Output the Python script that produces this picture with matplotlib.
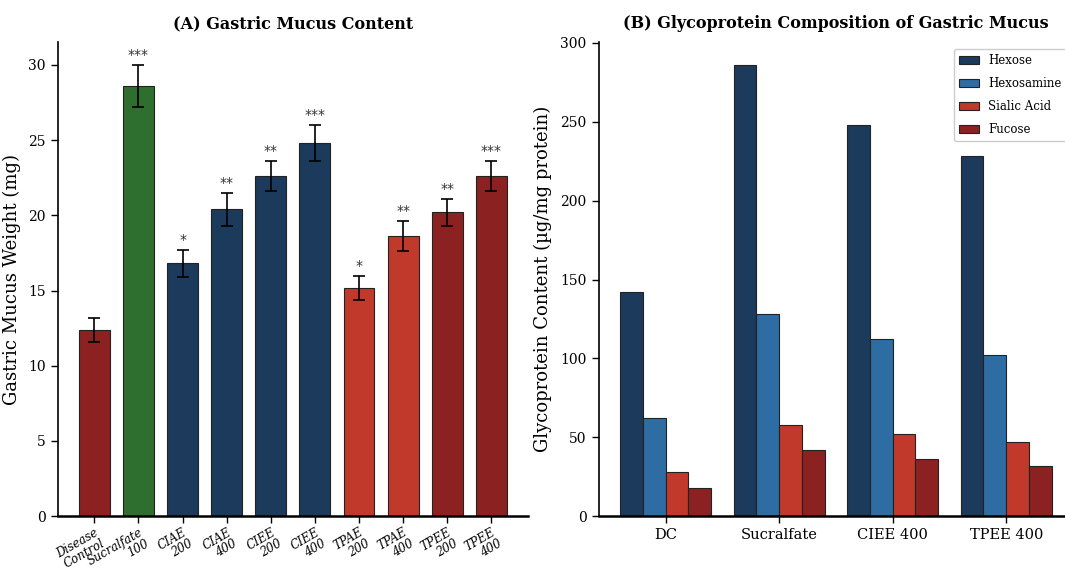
import matplotlib
matplotlib.use('Agg')
import matplotlib.pyplot as plt
import numpy as np

# Panel A data
grupos = ['Disease\nControl', 'Sucralfate\n100', 'CIAE\n200', 'CIAE\n400', 'CIEE\n200',
          'CIEE\n400', 'TPAE\n200', 'TPAE\n400', 'TPEE\n200', 'TPEE\n400']
peso_moco = [12.4, 28.6, 16.8, 20.4, 22.6, 24.8, 15.2, 18.6, 20.2, 22.6]
error_moco = [0.8, 1.4, 0.9, 1.1, 1.0, 1.2, 0.8, 1.0, 0.9, 1.0]
signif = ['', '***', '*', '**', '**', '***', '*', '**', '**', '***']

# Panel B data
grupos_b = ['DC', 'Sucralfate', 'CIEE 400', 'TPEE 400']
hexosa = [142, 286, 248, 228]
hexosamina = [62, 128, 112, 102]
acido_sialico = [28, 58, 52, 47]
fucosa = [18, 42, 36, 32]

NAVY = '#1b3a5c'
BLUE = '#2e6da4'
RED = '#c0392b'
DARKRED = '#8b2121'
GREEN = '#2e6e2e'
colores_a = [DARKRED, GREEN, NAVY, NAVY, NAVY, NAVY, RED, RED, DARKRED, DARKRED]

SERIF = 'DejaVu Serif'

fig = plt.figure(figsize=(10.65, 5.8), dpi=100)
ax1 = fig.add_axes([0.054, 0.11, 0.442, 0.817])
ax2 = fig.add_axes([0.562, 0.11, 0.4457, 0.817])

# (A)
x = np.arange(len(grupos))
ax1.bar(x, peso_moco, width=0.7, color=colores_a, edgecolor='#222222', linewidth=0.8,
        yerr=error_moco, capsize=4, error_kw={'elinewidth': 1.2, 'capthick': 1.2, 'ecolor': 'black'})
for i, s in enumerate(signif):
    if s:
        ax1.text(x[i], peso_moco[i] + error_moco[i] + 0.2, s, ha='center', va='bottom',
                 fontsize=10, color='#333333')
ax1.set_xticks(x)
ax1.set_xticklabels(grupos, rotation=30, ha='right', fontstyle='italic', family=SERIF,
                    fontsize=8.5, rotation_mode='anchor', linespacing=0.95)
ax1.tick_params(axis='x', pad=2)
ax1.set_ylabel('Gastric Mucus Weight (mg)', family=SERIF, fontsize=13, labelpad=5)
ax1.set_title('(A) Gastric Mucus Content', family=SERIF, fontweight='bold', fontsize=11.5,
              pad=10)

# (B)
xb = np.arange(len(grupos_b))
w = 0.2
series = [('Hexose', hexosa, NAVY), ('Hexosamine', hexosamina, BLUE),
          ('Sialic Acid', acido_sialico, RED), ('Fucose', fucosa, DARKRED)]
for k, (nombre, vals, col) in enumerate(series):
    ax2.bar(xb + (k - 1.5) * w, vals, width=w, color=col, edgecolor='#222222',
            linewidth=0.8, label=nombre)
ax2.set_xticks(xb)
ax2.set_xticklabels(grupos_b, family=SERIF, fontsize=10.5)
ax2.set_ylabel('Glycoprotein Content (µg/mg protein)', family=SERIF, fontsize=13, labelpad=6)
ax2.set_title('(B) Glycoprotein Composition of Gastric Mucus', family=SERIF,
              fontweight='bold', fontsize=11.5, pad=10)
ax2.legend(loc='upper right', prop={'family': SERIF, 'size': 8.5},
           framealpha=1, edgecolor='#cccccc', handlelength=1.7, labelspacing=0.85,
           borderaxespad=0.6)

for ax in (ax1, ax2):
    ax.spines['top'].set_visible(False)
    ax.spines['right'].set_visible(False)
    ax.spines['left'].set_linewidth(1.2)
    ax.spines['bottom'].set_linewidth(1.8)
    ax.tick_params(length=5, width=1)
    for lab in ax.get_yticklabels():
        lab.set_family(SERIF)
        lab.set_fontsize(10)

fig.savefig('out.png', dpi=100)
